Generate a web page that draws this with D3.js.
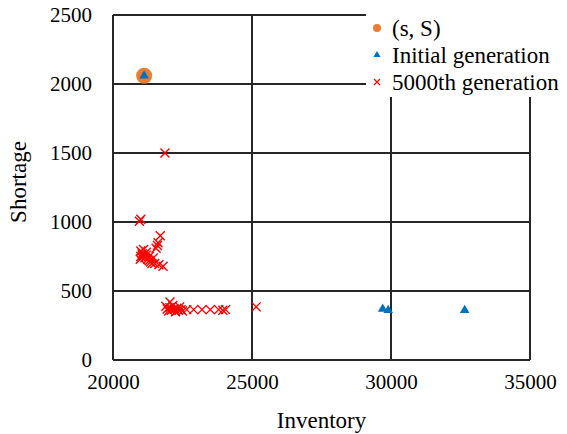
<!DOCTYPE html>
<html>
<head>
<meta charset="utf-8">
<script src="https://cdn.jsdelivr.net/npm/d3@7"></script>
<style>
  body { margin: 0; background: #fff; }
  svg text { font-family: 'Liberation Serif', 'Times New Roman', Times, 'DejaVu Serif', serif; fill: #000; }
</style>
</head>
<body>
<script>
const FONT = "'Liberation Serif', 'Times New Roman', Times, 'DejaVu Serif', serif";

// (s, S) policy
const sS = [{ inv: 21120, short: 2060 }];

// initial generation
const initInv = [21120, 29700, 29900, 32650];
const initShort = [2060, 370, 360, 360];

// 5000th generation
const genInv = [21870, 21000, 20950, 21700, 21600, 21550, 21620, 21000, 21050, 21000,
    21100, 21150, 21200, 21250, 21300, 21350, 21400, 21500, 21650, 21800,
    21100, 21200, 21300, 21450, 20980, 21050,
    22050, 21900, 21950, 22000, 22050, 22100, 22150, 22200, 22250, 22300,
    22350, 22400, 22450, 22500, 22650, 22900, 23200, 23500, 23800, 23950, 24050, 25150];
const genShort = [1500, 1020, 1005, 900, 830, 810, 850, 790, 770, 750,
    760, 740, 760, 730, 720, 710, 700, 700, 690, 680,
    800, 780, 750, 740, 730, 760,
    420, 390, 370, 355, 380, 360, 395, 370, 350, 375,
    360, 385, 365, 355, 365, 365, 365, 365, 365, 360, 365, 385];

const xTicks = [20000, 25000, 30000, 35000];
const yTicks = [0, 500, 1000, 1500, 2000, 2500];

const width = 567, height = 434;
const margin = { top: 15, right: 37, bottom: 74, left: 113 };
const w = width - margin.left - margin.right,
    h = height - margin.top - margin.bottom;

const x = d3.scaleLinear().domain([20000, 35000]).range([0, w]);
const y = d3.scaleLinear().domain([0, 2500]).range([h, 0]);

const svg = d3.select("body").append("svg")
    .attr("width", width)
    .attr("height", height)
    .attr("font-family", FONT);

const g = svg.append("g")
    .attr("transform", "translate(" + margin.left + "," + margin.top + ")");

const lineColor = "#262626";

// grid
g.append("g").selectAll("line")
    .data(yTicks)
    .enter().append("line")
    .attr("x1", 0).attr("x2", w)
    .attr("y1", d => y(d)).attr("y2", d => y(d))
    .attr("stroke", lineColor).attr("stroke-width", 2);

g.append("g").selectAll("line")
    .data(xTicks)
    .enter().append("line")
    .attr("y1", 0).attr("y2", h)
    .attr("x1", d => x(d)).attr("x2", d => x(d))
    .attr("stroke", lineColor).attr("stroke-width", 2);

// axes labels
const xAxis = g.append("g")
    .attr("transform", "translate(0," + h + ")")
    .call(d3.axisBottom(x).tickValues(xTicks).tickSize(0).tickPadding(14).tickFormat(d3.format("d")));
const yAxis = g.append("g")
    .call(d3.axisLeft(y).tickValues(yTicks).tickSize(0).tickPadding(21).tickFormat(d3.format("d")));
[xAxis, yAxis].forEach(a => {
    a.attr("font-family", FONT).attr("font-size", 21);
    a.select(".domain").remove();
    a.selectAll("text").style("font-family", FONT).style("font-size", "21px");
});

svg.append("text")
    .attr("x", margin.left + w / 2)
    .attr("y", 428)
    .attr("text-anchor", "middle")
    .style("font-family", FONT)
    .style("font-size", "23px")
    .text("Inventory");

svg.append("text")
    .attr("transform", "translate(26,182) rotate(-90)")
    .attr("text-anchor", "middle")
    .style("font-family", FONT)
    .style("font-size", "23px")
    .text("Shortage");

// marks
const orange = "#ED7D31", blue = "#0070C0", red = "#FF0000";
const tri = d3.symbol().type(d3.symbolTriangle);

g.selectAll(".ss").data(sS).enter().append("circle")
    .attr("cx", d => x(d.inv)).attr("cy", d => y(d.short))
    .attr("r", 8).attr("fill", orange);

g.selectAll(".init").data(initInv).enter().append("path")
    .attr("d", tri.size(40))
    .attr("transform", (d, i) => "translate(" + x(d) + "," + y(initShort[i]) + ")")
    .attr("fill", blue);

const cross = 4.5;
const gen = g.selectAll(".gen").data(genInv).enter().append("g")
    .attr("transform", (d, i) => "translate(" + x(d) + "," + y(genShort[i]) + ")");
gen.append("path")
    .attr("d", "M" + -cross + "," + -cross + "L" + cross + "," + cross + "M" + -cross + "," + cross + "L" + cross + "," + -cross)
    .attr("stroke", red).attr("stroke-width", 1.4).attr("fill", "none");

// legend
const leg = svg.append("g");
leg.append("rect").attr("x", 366).attr("y", 13).attr("width", 201).attr("height", 84).attr("fill", "#fff");
const legendItems = ["(s, S)", "Initial generation", "5000th generation"];
const rowsY = [30, 57, 84];
legendItems.forEach((t, i) => {
    const ly = rowsY[i];
    if (i === 0) {
        leg.append("circle").attr("cx", 377).attr("cy", ly - 2).attr("r", 4).attr("fill", orange);
    } else if (i === 1) {
        leg.append("path").attr("d", d3.symbol().type(d3.symbolTriangle).size(22)())
            .attr("transform", "translate(377," + (ly - 2) + ")").attr("fill", blue);
    } else {
        const c = 3;
        leg.append("path")
            .attr("d", "M" + (377 - c) + "," + (ly - 2 - c) + "L" + (377 + c) + "," + (ly - 2 + c) + "M" + (377 - c) + "," + (ly - 2 + c) + "L" + (377 + c) + "," + (ly - 2 - c))
            .attr("stroke", red).attr("stroke-width", 1.2);
    }
    leg.append("text").attr("x", 392).attr("y", ly + 6)
        .style("font-family", FONT)
        .style("font-size", "23px").text(t);
});
</script>
</body>
</html>
